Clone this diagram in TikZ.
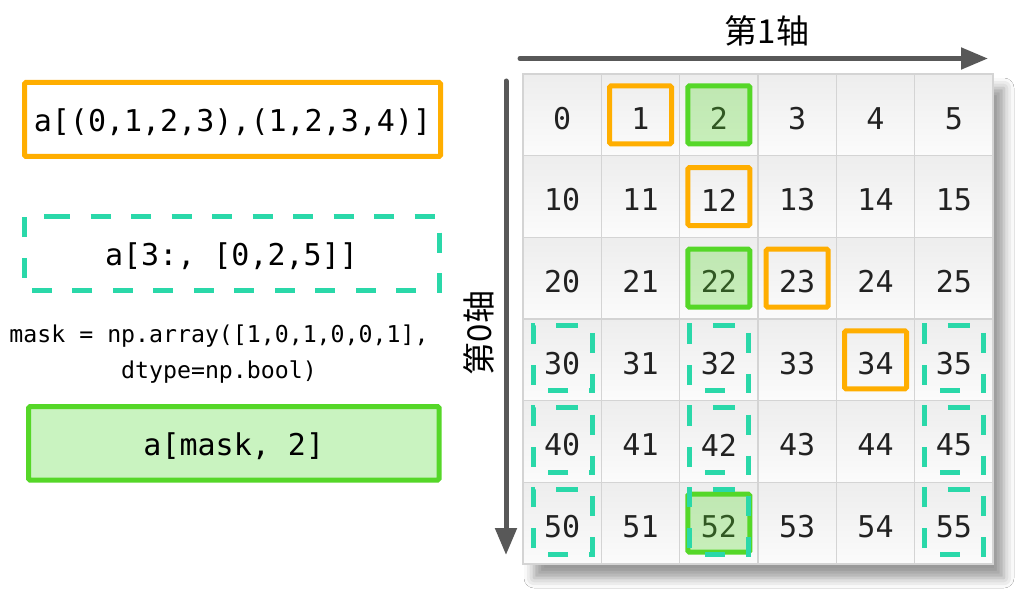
\documentclass[tikz,border=0pt]{standalone}
\usepackage{fontspec}
\setmonofont{DejaVu Sans Mono}
\newfontfamily\cjkfont{Noto Sans CJK SC}
\usetikzlibrary{arrows.meta,shadows.blur}
\definecolor{orangeC}{RGB}{255,174,0}
\definecolor{greenC}{RGB}{85,215,40}
\definecolor{greenF}{RGB}{201,243,192}
\definecolor{tealC}{RGB}{42,216,169}
\definecolor{axisC}{RGB}{88,88,88}
\definecolor{gridC}{RGB}{212,212,212}
\definecolor{txtC}{RGB}{34,34,34}
\begin{document}
\begin{tikzpicture}[x=1pt,y=-1pt,
  cellbox/.style={minimum width=78.333pt,minimum height=81.667pt,inner sep=0pt,
    draw=gridC,line width=1.2pt,top color=black!7,bottom color=black!1.5},
  cellnum/.style={inner sep=0pt,font=\ttfamily\fontsize{30}{30}\selectfont,text=txtC},
  hl/.style={minimum width=62pt,minimum height=58pt,inner sep=0pt,line width=5pt,rounded corners=1.5pt},
  hlorange/.style={hl,draw=orangeC},
  hlgreen/.style={hl,draw=greenC,fill=greenC,fill opacity=0.3,draw opacity=1},
  tealdash/.style={draw=tealC,line width=5pt,dash pattern=on 20pt off 21pt},
  codebox/.style={inner sep=0pt,line width=5pt,rounded corners=1.5pt,
    text height=28.8pt,text depth=3.9pt,
    font=\ttfamily\fontsize{30}{30}\selectfont,text=black},
  axisline/.style={line width=5pt,draw=axisC,line cap=round,
    -{Triangle[length=27pt,width=21pt]}},
  axislabel/.style={font=\cjkfont\fontsize{33}{33}\selectfont,text=black,inner sep=0pt}
]
\useasboundingbox (0,0) rectangle (1020,591);
\fill[white] (0,0) rectangle (1020,591);

% grid background with shadow
\node[minimum width=470pt,minimum height=490pt,inner sep=0pt,fill=white,
  blur shadow={shadow xshift=11pt,shadow yshift=-14pt,shadow blur radius=10pt,shadow opacity=40}]
  (gridbg) at (758,319) {};

% cells
\foreach \r in {0,...,5}{
  \foreach \c in {0,...,5}{
    \pgfmathtruncatemacro\v{10*\r+\c}
    \node[cellbox] (c\r\c) at ({523+78.333*(\c+0.5)},{74+81.667*(\r+0.5)}) {};
    \node[cellnum] (n\r\c) at ([yshift=-3.5pt]c\r\c.center) {\v};
  }
}

% orange: a[(0,1,2,3),(1,2,3,4)]
\node[hlorange] (o01) at (c01) {};
\node[hlorange] (o12) at (c12) {};
\node[hlorange] (o23) at (c23) {};
\node[hlorange] (o34) at (c34) {};
% green: a[mask, 2]
\node[hlgreen] (g02) at (c02) {};
\node[hlgreen] (g22) at (c22) {};
\node[hlgreen] (g52) at (c52) {};
% teal dashed: a[3:, [0,2,5]]  (y grows downwards)
\foreach \r in {3,4,5}{
  \foreach \c in {0,2,5}{
    \draw[tealdash] ([shift={(-4,-34)}]c\r\c.center) -- ([shift={(30,-34)}]c\r\c.center)
      -- ([shift={(30,31)}]c\r\c.center) -- ([shift={(-29,31)}]c\r\c.center)
      -- ([shift={(-29,-34)}]c\r\c.center) -- cycle;
  }
}

% axes
\coordinate (hx0) at (520,58.5);
\coordinate (hx1) at (988,58.5);
\draw[axisline] (hx0) -- (hx1);
\node[axislabel] (xlab) at (767,31) {第1轴};
\coordinate (vy0) at (506,81);
\coordinate (vy1) at (506,555);
\draw[axisline] (vy0) -- (vy1);
\node[axislabel,rotate=90] (ylab) at (479,333) {第0轴};

% left code boxes
\node[codebox,draw=orangeC,minimum width=416pt,minimum height=74pt] (bo) at (232.5,119.5) {a[(0,1,2,3),(1,2,3,4)]};
\node[codebox,minimum width=415pt,minimum height=74pt] (bt) at (231.5,253.5) {a[3:, [0,2,5]]};
\draw[draw=tealC,line width=5pt,dash pattern=on 20pt off 20.5pt]
  ([shift={(-181.5,-37)}]bt.center) -- ([shift={(207.5,-37)}]bt.center) -- ([shift={(207.5,37)}]bt.center)
  -- ([shift={(-207.5,37)}]bt.center) -- ([shift={(-207.5,-37)}]bt.center) -- cycle;
\node[inner sep=0pt,align=center,font=\ttfamily\fontsize{23.2}{36}\selectfont,text=black] (mask) at (219,354)
  {mask = np.array([1,0,1,0,0,1],\\dtype=np.bool)};
\node[codebox,draw=greenC,fill=greenF,minimum width=410.5pt,minimum height=73.5pt] (bg) at (233.8,443.3) {a[mask, 2]};
\end{tikzpicture}
\end{document}
